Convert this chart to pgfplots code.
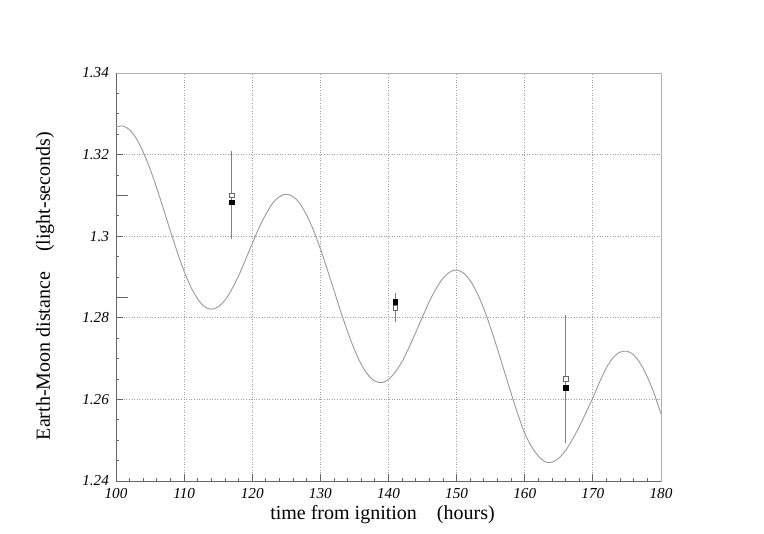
\documentclass[border=0pt]{standalone}
\usepackage{pgfplots}
\pgfplotsset{compat=1.18}
\usepackage{fontspec}
\setmainfont{Liberation Serif}

\definecolor{curvegray}{gray}{0.6}
\definecolor{axisdark}{gray}{0.4}
\definecolor{axislight}{gray}{0.7}
\definecolor{gridgray}{gray}{0.62}
\definecolor{bargray}{gray}{0.5}

% model curve (one value per hour)
\pgfplotstableread{
x y
100 1.3268
101 1.3270
102 1.3261
103 1.3239
104 1.3206
105 1.3165
106 1.3117
107 1.3065
108 1.3012
109 1.2961
110 1.2914
111 1.2875
112 1.2846
113 1.2827
114 1.2821
115 1.2827
116 1.2843
117 1.2870
118 1.2903
119 1.2942
120 1.2982
121 1.3021
122 1.3054
123 1.3081
124 1.3097
125 1.3103
126 1.3097
127 1.3080
128 1.3051
129 1.3014
130 1.2969
131 1.2919
132 1.2867
133 1.2815
134 1.2766
135 1.2722
136 1.2686
137 1.2660
138 1.2645
139 1.2641
140 1.2649
141 1.2667
142 1.2693
143 1.2727
144 1.2764
145 1.2803
146 1.2840
147 1.2872
148 1.2897
149 1.2912
150 1.2917
151 1.2910
152 1.2891
153 1.2861
154 1.2822
155 1.2775
156 1.2723
157 1.2669
158 1.2615
159 1.2563
160 1.2517
161 1.2484
162 1.2461
163 1.2447
164 1.2446
165 1.2456
166 1.2475
167 1.2502
168 1.2533
169 1.2568
170 1.2604
171 1.2643
172 1.2678
173 1.2703
174 1.2716
175 1.2718
176 1.2709
177 1.2687
178 1.2655
179 1.2614
180 1.2564
}\curve

% measurements: open and filled squares
\pgfplotstableread{
x y e
117 1.3100 0.0100
141 1.2825 0.0028
166 1.2650 0.0150
}\opendata

\pgfplotstableread{
x y e
117 1.3083 0.0029
141 1.2838 0.0014
166 1.2629 0.0030
}\filleddata

\begin{document}
\begin{tikzpicture}
\path[use as bounding box] (-58pt,-26.5pt) rectangle (324pt,240.5pt);
\begin{axis}[
    scale only axis,
    width=272.5pt, height=204pt,
    xmin=100, xmax=180,
    ymin=1.24, ymax=1.34,
    xtick={100,110,120,130,140,150,160,170,180},
    ytick={1.24,1.26,1.28,1.3,1.32,1.34},
    minor x tick num=4,
    minor y tick num=3,
    extra y ticks={1.31,1.285},
    extra y tick labels={},
    extra y tick style={grid=none, major tick length=6pt},
    tick pos=left,
    tick align=inside,
    major tick length=3.5pt,
    minor tick length=1.6pt,
    tick style={axisdark, line width=0.4pt},
    grid=major,
    major grid style={gridgray, line width=0.4pt, dash pattern=on 0.5pt off 0.8pt},
    axis line style={axislight, line width=0.4pt},
    clip=false,
    /pgf/number format/assume math mode=true,
    xticklabel={\textit{\pgfmathprintnumber{\tick}}},
    yticklabel={\textit{\pgfmathprintnumber{\tick}}},
    ticklabel style={font=\fontsize{7.6}{8}\selectfont},
    label style={font=\fontsize{9}{11}\selectfont},
    every axis x label/.style={at={(axis description cs:0.5,0)}, xshift=-3pt, yshift=-17pt, anchor=center},
    every axis y label/.style={at={(axis description cs:0,0.478)}, xshift=-35.5pt, rotate=90, anchor=center},
    xlabel={time from ignition\quad(hours)},
    ylabel={Earth-Moon distance\quad(light-seconds)},
]
\draw[axisdark, line width=0.5pt] (rel axis cs:0,1) -- (rel axis cs:0,0) -- (rel axis cs:1,0);

\addplot[curvegray, line width=0.45pt, smooth] table[x=x, y=y] {\curve};

\addplot[only marks, mark=square*, mark size=1.2pt,
    mark options={fill=white, draw=gray!80!black, line width=0.4pt},
    error bars/.cd, y dir=both, y explicit,
    error bar style={bargray, line width=0.4pt},
    error mark options={bargray, mark size=1.6pt, line width=0.4pt}]
    table[x=x, y=y, y error=e] {\opendata};

\addplot[only marks, mark=square*, mark size=1.2pt,
    mark options={fill=black, draw=black},
    error bars/.cd, y dir=both, y explicit,
    error bar style={bargray, line width=0.4pt},
    error mark options={bargray, mark size=1.6pt, line width=0.4pt}]
    table[x=x, y=y, y error=e] {\filleddata};
\end{axis}
\end{tikzpicture}
\end{document}
